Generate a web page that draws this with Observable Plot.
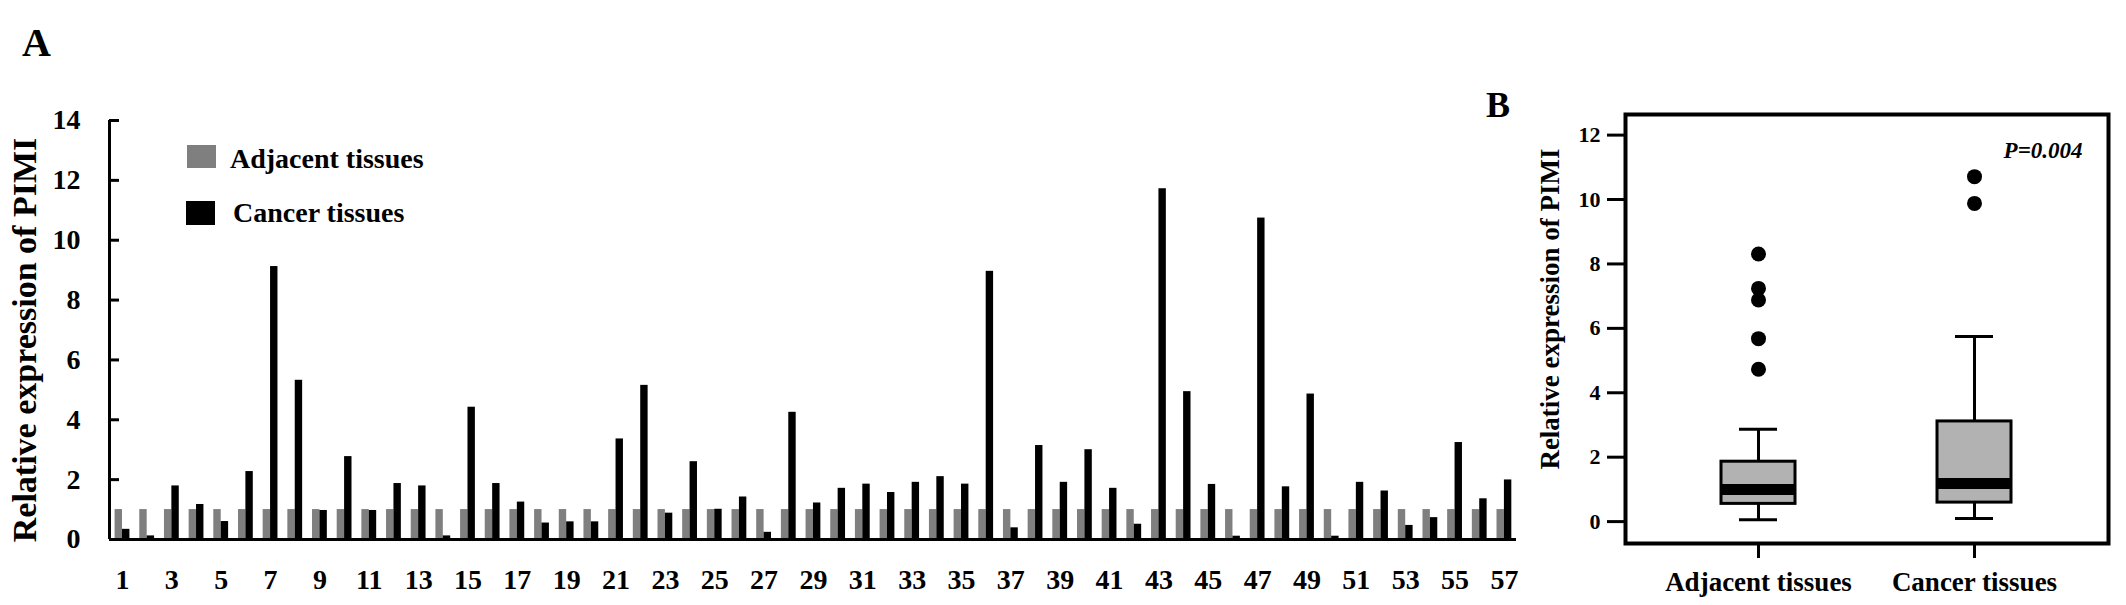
<!DOCTYPE html>
<html><head><meta charset="utf-8">
<script src="https://cdn.jsdelivr.net/npm/d3@7"></script>
<script src="https://cdn.jsdelivr.net/npm/@observablehq/plot@0.6"></script>
<style>
body{margin:0;background:#fff;}
#wrap{position:relative;width:2126px;height:605px;overflow:hidden;font-family:"Liberation Serif","Times New Roman",serif;font-weight:bold;color:#000;}
.abs{position:absolute;line-height:1;white-space:nowrap;}
.sw{position:absolute;}
#wrap svg{position:absolute;top:0;}
</style></head><body><div id="wrap"></div>
<script>
// ---------- Panel A data ----------
const samples = [1,2,3,4,5,6,7,8,9,10,11,12,13,14,15,16,17,18,19,20,21,22,23,24,25,26,27,28,29,30,31,32,33,34,35,36,37,38,39,40,41,42,43,44,45,46,47,48,49,50,51,52,53,54,55,56,57];
const adjacent = [1,1,1,1,1,1,1,1,1,1,1,1,1,1,1,1,1,1,1,1,1,1,1,1,1,1,1,1,1,1,1,1,1,1,1,1,1,1,1,1,1,1,1,1,1,1,1,1,1,1,1,1,1,1,1,1,1];
const cancer = [0.34,0.12,1.79,1.17,0.60,2.27,9.12,5.32,0.97,2.77,0.97,1.87,1.79,0.12,4.42,1.87,1.25,0.55,
                0.59,0.59,3.36,5.15,0.88,2.60,1.01,1.42,0.24,4.25,1.22,1.71,1.85,1.57,1.91,2.10,1.85,8.96,0.39,3.14,1.91,3.00,
                1.71,0.51,11.72,4.94,1.84,0.11,10.74,1.76,4.86,0.11,1.91,1.62,0.47,0.73,3.24,1.36,1.99];
const xTickLabels = [1,3,5,7,9,11,13,15,17,19,21,23,25,27,29,31,33,35,37,39,41,43,45,47,49,51,53,55,57];
const yTicksA = [0,2,4,6,8,10,12,14];
const seriesNames = ["Adjacent tissues","Cancer tissues"];
const yTitle = "Relative expression of PIMI";

// ---------- Panel B data ----------
const groups = ["Adjacent tissues","Cancer tissues"];
const whiskerLow = [0.06, 0.10];
const q1 = [0.55, 0.59];
const median = [1.00, 1.18];
const q3 = [1.86, 3.11];
const whiskerHigh = [2.87, 5.75];
const outliersAdjacent = [8.31, 7.24, 6.88, 5.68, 4.73];
const outliersCancer = [10.71, 9.88];
const yTicksB = [0,2,4,6,8,10,12];
const pValue = "P=0.004";

const GRAY = "#7f7f7f";
const wrap = document.getElementById("wrap");

// ---------- Panel A ----------
const rows = samples.map((s,i)=>({sample:s, adjacent:adjacent[i], cancer:cancer[i]}));
const xDomainA = [0.473, 57.49];
const half = 0.3;
const chartA = Plot.plot({
  width: 1530, height: 605,
  marginLeft: 109, marginRight: 14, marginTop: 120, marginBottom: 66,
  style: {fontFamily: '"Liberation Serif","Times New Roman",serif', fontWeight: "bold", background: "transparent", color: "#000"},
  x: {type: "linear", domain: xDomainA},
  y: {domain: [0, 14]},
  marks: [
    Plot.rect(rows, {x1: d => d.sample - half, x2: d => d.sample, y1: 0, y2: "adjacent", fill: GRAY}),
    Plot.rect(rows, {x1: d => d.sample, x2: d => d.sample + half, y1: 0, y2: "cancer", fill: "#000"}),
    Plot.ruleY([0], {stroke: "#000", strokeWidth: 3}),
    Plot.ruleX([xDomainA[0]], {y1: 0, y2: 14, stroke: "#000", strokeWidth: 3}),
    Plot.axisY({ticks: yTicksA, tickSize: -10, tickPadding: 39, fontSize: 28, label: null, strokeWidth: 3, tickFormat: d => String(d)}),
    Plot.axisX({ticks: xTickLabels, tickSize: 0, tickPadding: 30, fontSize: 28, label: null, tickFormat: d => String(d)}),
    Plot.text([yTitle], {frameAnchor: "left", textAnchor: "middle", rotate: -90, dx: -84, dy: 10, fontSize: 34, fontWeight: "bold", text: d => d})
  ]
});
chartA.style.left = "0px";
wrap.appendChild(chartA);

// ---------- Panel B ----------
const boxRows = groups.map((g,i)=>({group:g, lo:whiskerLow[i], q1:q1[i], med:median[i], q3:q3[i], hi:whiskerHigh[i]}));
const outRows = [
  ...outliersAdjacent.map(v => ({group: groups[0], v})),
  ...outliersCancer.map(v => ({group: groups[1], v}))
];
const chartB = Plot.plot({
  width: 646, height: 605,
  marginLeft: 145, marginRight: 18, marginTop: 114, marginBottom: 62,
  style: {fontFamily: '"Liberation Serif","Times New Roman",serif', fontWeight: "bold", background: "transparent", color: "#000"},
  x: {type: "band", domain: groups, paddingInner: 0.657, paddingOuter: 0.444},
  y: {domain: [-0.68, 12.64]},
  marks: [
    Plot.ruleX(boxRows, {x: "group", y1: "lo", y2: "q1", stroke: "#000", strokeWidth: 3}),
    Plot.ruleX(boxRows, {x: "group", y1: "q3", y2: "hi", stroke: "#000", strokeWidth: 3}),
    Plot.barY(boxRows, {x: "group", y1: "q1", y2: "q3", fill: "#b2b2b2", stroke: "#000", strokeWidth: 3}),
    Plot.tickY(boxRows, {x: "group", y: "med", stroke: "#000", strokeWidth: 11}),
    Plot.tickY(boxRows, {x: "group", y: "lo", stroke: "#000", strokeWidth: 3, inset: 18}),
    Plot.tickY(boxRows, {x: "group", y: "hi", stroke: "#000", strokeWidth: 3, inset: 18}),
    Plot.dot(outRows, {x: "group", y: "v", r: 7.5, fill: "#000", stroke: null}),
    Plot.frame({stroke: "#000", strokeWidth: 4}),
    Plot.axisY({ticks: yTicksB, tickSize: 18, tickPadding: 7, fontSize: 22, label: null, strokeWidth: 3, tickFormat: d => String(d)}),
    Plot.axisX({tickSize: 15, tickPadding: 13, fontSize: 27, label: null, strokeWidth: 3}),
    Plot.text([pValue], {frameAnchor: "top-right", dx: -26, dy: 27, fontSize: 23, fontStyle: "italic", fontWeight: "bold", textAnchor: "end", text: d => d}),
    Plot.text([yTitle], {frameAnchor: "left", textAnchor: "middle", rotate: -90, dx: -75, dy: -20, fontSize: 27, fontWeight: "bold", text: d => d})
  ]
});
chartB.style.left = "1480px";
wrap.appendChild(chartB);

// ---------- Panel letters and legend (HTML) ----------
function addText(txt, left, top, size, extra) {
  const d = document.createElement("div");
  d.className = "abs";
  d.textContent = txt;
  d.style.left = left + "px"; d.style.top = top + "px"; d.style.fontSize = size + "px";
  if (extra) Object.assign(d.style, extra);
  wrap.appendChild(d);
}
function addSwatch(color, left, top, w, h) {
  const d = document.createElement("div");
  d.className = "sw";
  Object.assign(d.style, {left: left + "px", top: top + "px", width: w + "px", height: h + "px", background: color});
  wrap.appendChild(d);
}
addText("A", 22, 23, 40);
addText("B", 1486, 87, 36);
addSwatch(GRAY, 187, 145, 29, 23);
addSwatch("#000", 186, 201, 29, 24);
addText(seriesNames[0], 230, 145, 28);
addText(seriesNames[1], 233, 199, 28);
</script></body></html>
